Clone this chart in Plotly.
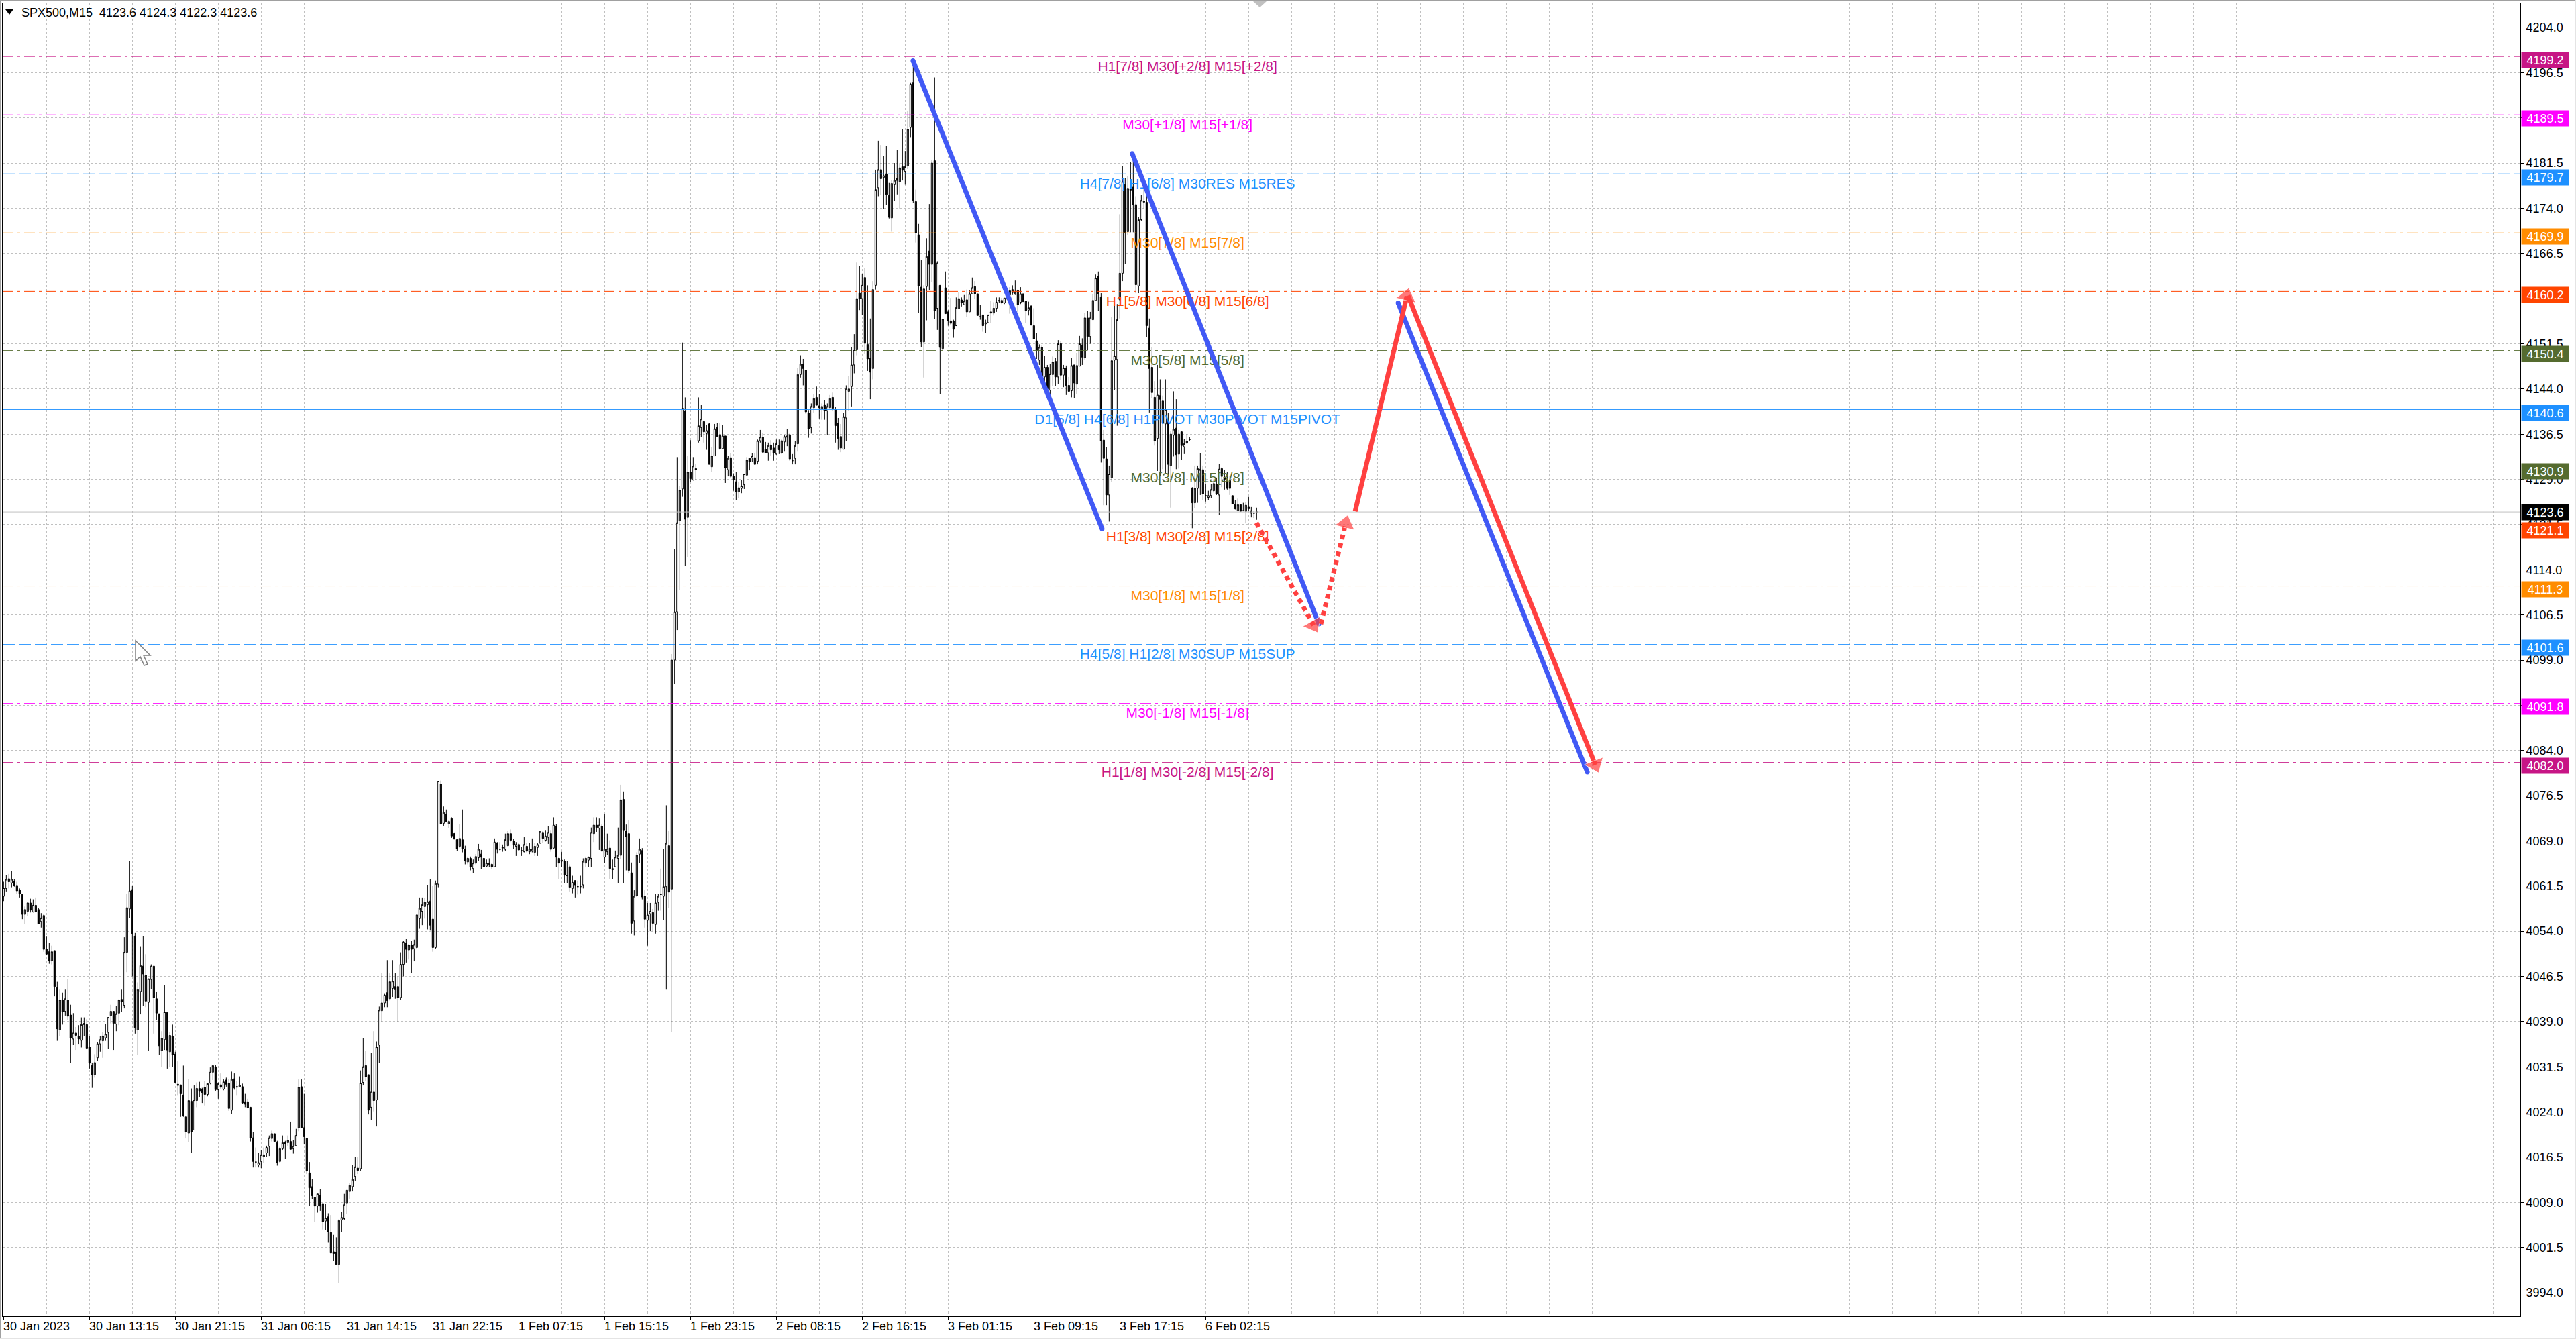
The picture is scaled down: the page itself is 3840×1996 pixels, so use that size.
import plotly.graph_objects as go

OPEN = [
4059.8,4061.1,4062.7,4062.0,4062.3,4061.6,4060.8,4060.1,4056.8,4057.3,
4058.7,4057.2,4058.3,4057.6,4055.6,4056.6,4051,4050.6,4049.1,4050.8,
4044.6,4037.6,4042.6,4040.7,4042.6,4040.1,4036.1,4037.1,4036.6,4035.9,
4038.7,4038.5,4034.8,4031.7,4030.2,4033,4035.3,4035.8,4036.3,4037.2,
4040,4040.7,4038.6,4040.4,4042.7,4041.7,4050.5,4057.7,4060.9,4053.2,
4037.6,4044,4048.2,4046.7,4042.2,4046,4048.2,4042.8,4040.3,4034.2,
4036,4040.5,4034,4036.6,4033.6,4028.6,4028.5,4026.8,4023.2,4020.5,
4025.8,4021,4025.9,4027.9,4027.8,4028.1,4026.9,4028.8,4030.6,4031.5,
4027.7,4028.5,4027.8,4029.3,4028.8,4024.3,4029.5,4028.1,4028.2,4028.2,
4025.7,4025.7,4024.8,4019.7,4015.7,4015.2,4015.8,4016.6,4017.2,4018.3,
4019.6,4020.4,4018.9,4015.8,4017.9,4019,4018.9,4019.1,4017.9,4018.4,
4021.4,4028.2,4021.4,4019.6,4013.9,4011.6,4009.8,4008.4,4010.2,4008.7,
4005.9,4006.6,4004,4000.8,4000.7,3998.7,4006.1,4006.3,4008.8,4010.8,
4011.6,4013.3,4014.7,4014.6,4028.9,4031.7,4030.2,4024.8,4027.3,4026,
4035.1,4040.8,4042.1,4043.8,4042.8,4044.5,4044.8,4044.8,4043,4048.5,
4052,4050.9,4051.7,4051.1,4051.3,4056.1,4057.3,4058.1,4058.4,4059,
4056,4051.3,4061.8,4078.4,4071.9,4073.4,4071.8,4072.7,4070.2,4069.2,
4068.1,4069.2,4067.6,4065.5,4066.1,4064.4,4065.3,4066.2,4066.8,4066.1,
4064.8,4065.1,4065.1,4064.7,4068.6,4067.6,4067.8,4067.6,4068.2,4070.2,
4069,4068.1,4068.4,4067.4,4067.2,4068.1,4067.2,4067.3,4067.1,4067.9,
4068.6,4070.4,4069.1,4069.6,4070.2,4067.8,4071.4,4066.1,4065.6,4065.6,
4063.2,4064.7,4061.1,4062.4,4061.4,4061.4,4061.7,4065.3,4065.8,4066.1,
4070.2,4071.6,4071.1,4071.4,4066.3,4067.2,4067.8,4064.2,4064.7,4066.1,
4066.6,4075.9,4070.6,4070.2,4063.7,4055.7,4059.9,4066.8,4067.4,4059.8,
4055.8,4056.9,4057.1,4055.1,4058.8,4060.1,4059.8,4061.4,4068.2,4061,
4099,4107,4122.1,4127.4,4140.3,4122.7,4130.2,4128.9,4130.8,4135.4,
4137.6,4138.6,4136.6,4138.2,4131.1,4132.9,4137.6,4136.4,4134.1,4136.2,
4130.6,4132.6,4129.5,4128.6,4126.9,4127.5,4128.1,4129.7,4132.5,4132.6,
4132.6,4132,4135.4,4136,4134,4133.4,4134.7,4134.2,4133.2,4134.6,
4133.4,4135.2,4136,4136.4,4132.1,4132.5,4134.9,4146.4,4148.1,4147.1,
4140,4137.6,4140.9,4142.6,4141.2,4140.7,4141.4,4140.4,4140.9,4142.6,
4140.7,4138.3,4136.1,4134,4139.2,4143.6,4144.4,4148,4150.6,4159.9,
4159,4162.5,4151.4,4149.1,4147.4,4161.2,4177.4,4180.4,4179.1,4179.7,
4176.1,4172.4,4177.9,4179,4178.4,4180.9,4180.1,4181,4187.4,4194.9,
4175.1,4169.6,4160.9,4151.8,4161,4166.9,4164.7,4181.9,4157.4,4161.2,
4150.7,4160.8,4156.8,4155.3,4155.3,4154.5,4157.3,4158.8,4158,4158.8,
4156.8,4159.8,4161,4159.8,4156,4156.3,4154.8,4155,4156.6,4156.6,
4157.4,4158.6,4158.7,4158.3,4159.1,4159.6,4160.5,4159.8,4160.4,4158.4,
4159.8,4158.6,4157.1,4157.8,4154.5,4152,4148.8,4150.9,4146,4147.6,
4143.8,4146.4,4148.6,4146,4151.5,4146.3,4147.5,4144.6,4143.7,4148,
4144.8,4147.8,4151.3,4149.2,4155.8,4152.7,4155.5,4158.7,4162.7,4159.3,
4135.5,4132.4,4126.4,4129.3,4148.8,4148.9,4158.8,4163.2,4177.9,4170.1,
4177,4177.5,4174.6,4161.1,4172.1,4175,4175,4154.1,4147.6,4142.6,
4135.8,4142.9,4142,4138.2,4138.8,4131.3,4136.3,4137.5,4133.2,4136.9,
4134.4,4135,4135.6,4127.5,4125.1,4127.5,4130.5,4130.6,4126.3,4126,
4126.3,4127.1,4128.2,4126.4,4130.8,4129.4,4128.6,4128.8,4126.3,4124.8,
4123.8,4124.8,4123.8,4123.7,4124.4,4123.8,4123.4,4123.6,
]
HIGH = [
4062.2,4063.3,4063.5,4064.0,4062.6,4062.2,4061.1,4060.1,4058.1,4058.8,
4059.4,4059.3,4059.6,4057.9,4057.0,4056.9,4053.1,4052.1,4051.6,4050.8,
4045.6,4044.3,4043.8,4044.3,4046.1,4041.8,4040.4,4038.1,4038.4,4039.7,
4039.7,4039.4,4036.6,4032.2,4033.6,4035.6,4036.6,4037.2,4038.6,4039.7,
4041.8,4040.7,4041.6,4042.7,4044.3,4053,4060.2,4065.6,4061.5,4053.7,
4045.5,4051.5,4053.2,4050.2,4046.1,4048.5,4048.2,4044,4040.3,4037.4,
4045,4040.5,4037.3,4038.5,4034,4032.4,4028.5,4031.7,4023.2,4029.5,
4027.9,4028.4,4028.9,4029,4028,4029.1,4028.8,4031.4,4031.7,4031.8,
4028.9,4030.4,4029.4,4029.7,4029.5,4030.7,4030.4,4029.2,4029.9,4028.7,
4027,4026.2,4024.8,4020.7,4018.1,4017.2,4017.7,4018.1,4018.4,4020.1,
4020.9,4020.4,4019.2,4018.2,4020.1,4019.2,4020.1,4022.4,4019.3,4021.2,
4029.4,4029.4,4027,4019.6,4015.7,4012.9,4009.8,4010.4,4011.2,4008.7,
4008.7,4007.2,4006.9,4003.6,4003.2,4006.2,4007.4,4010.4,4011,4012.2,
4015.2,4016.6,4016.5,4030.9,4036.2,4034.2,4030.2,4033.8,4037.4,4035.7,
4041.5,4047,4043.7,4049.2,4047,4049.2,4047,4046.5,4050.5,4052.4,
4052.7,4051.9,4052.4,4052.6,4056.7,4059.6,4059.6,4059.5,4061.7,4062.6,
4061.5,4062.4,4078.9,4079,4074.7,4074.2,4072.4,4072.9,4070.4,4069.2,
4071.8,4074.2,4068.2,4066.4,4066.4,4065.9,4066.8,4068.5,4067.5,4066.1,
4065.9,4066.1,4065.3,4069.4,4068.8,4068.8,4068.4,4070.2,4070.7,4070.9,
4069.3,4068.8,4068.7,4068,4069.6,4068.7,4068.7,4069.4,4068.6,4068.6,
4070.6,4070.7,4070.8,4071.4,4070.8,4072.9,4071.8,4066.4,4067.2,4065.9,
4065.6,4065.1,4063.2,4062.4,4062.4,4063.2,4066.1,4066.4,4066.4,4071.2,
4072.9,4072.9,4072.7,4071.7,4073.4,4070.2,4069.1,4065.9,4067.4,4071.2,
4078.3,4077.2,4071.7,4072.4,4065.4,4060.8,4067.1,4069.4,4067.8,4060.8,
4058.7,4058.7,4057.7,4060.2,4060.2,4064.4,4067.6,4074.9,4070.7,4100,
4117.4,4132.7,4127.9,4151.7,4142.6,4132.9,4135.5,4132.7,4131.6,4142.6,
4141.4,4138.6,4138,4138.4,4134.4,4138.2,4138.4,4138.4,4138,4136.2,
4132.9,4133.4,4130,4130.2,4128.6,4128.9,4129.9,4132.7,4132.5,4133.4,
4133.4,4135.6,4137.2,4136.7,4135.2,4135.1,4135.5,4135.1,4135.6,4135.6,
4135.6,4136.4,4137.4,4136.6,4133.2,4135.4,4147.5,4149.6,4149,4147.1,
4140.5,4141.6,4143.1,4144.4,4143.1,4141.6,4142.1,4141.6,4143,4143.4,
4141,4139.2,4138.2,4140,4144.6,4146.1,4150.9,4153.1,4165,4164.4,
4163.1,4164.1,4161.2,4155.7,4161.9,4180.4,4185.2,4184.5,4182.7,4184.4,
4178.2,4178.7,4181.5,4183.7,4181.5,4187.1,4183.5,4190.2,4194.9,4198,
4177.1,4171.4,4165.4,4161.2,4169,4174.7,4182,4195.7,4165.2,4161.2,
4155.6,4163.5,4157.1,4159.1,4155.5,4159.2,4160,4159.2,4159.6,4160.5,
4160.4,4162.5,4161.9,4159.8,4158,4156.3,4155.5,4156.3,4158.6,4158.4,
4159.2,4159.2,4159.1,4159.1,4160.5,4160.9,4161.2,4162,4160.5,4160.9,
4159.8,4158.6,4158.5,4157.8,4157.4,4153.3,4151.4,4151.2,4149.5,4148,
4148.2,4149.4,4149.2,4152.1,4152,4148,4147.9,4146,4149.2,4148,
4150,4152.8,4152.4,4156.6,4157,4156.8,4159.8,4163,4163.5,4159.9,
4137.2,4134.3,4131.3,4156,4158.2,4158.1,4173,4181,4179,4179.3,
4181.7,4181.9,4176,4172.6,4176.2,4178.8,4177.5,4155.7,4150.9,4145.3,
4148,4145.6,4142.9,4145.6,4140,4137,4143.6,4142.3,4137.2,4136.9,
4135.7,4136.5,4136,4127.7,4131.3,4131.3,4133.3,4131.3,4128.2,4127.1,
4128.2,4129,4129.3,4131.6,4131,4130.6,4130.2,4129.5,4126.3,4125.6,
4125.8,4124.9,4125.1,4125.2,4126.1,4124.4,4123.8,4124.3,
]
LOW = [
4059.0,4060.6,4061.1,4061.3,4061.4,4060.2,4059.6,4056.0,4055.2,4056.5,
4057.1,4057.1,4057.1,4055.2,4054.6,4050.6,4050,4048.6,4048.5,4043.2,
4035.8,4036.6,4038.5,4040.0,4039.3,4032.1,4035.1,4034.3,4035.3,4034.7,
4036.6,4034.4,4031.2,4028,4029.7,4032.5,4034,4033,4035.8,4034.5,
4038.7,4034.3,4037.4,4038.4,4040.6,4041.2,4047.2,4056.2,4046.5,4037,
4033.5,4040.2,4041.6,4041.4,4034.2,4044.4,4037,4039.3,4033.5,4031.5,
4034.3,4031.2,4031.5,4031.5,4028.8,4026.7,4023.2,4023.2,4019.6,4019,
4017.2,4021,4024.8,4026.4,4025.5,4025.1,4026.6,4028.6,4029.3,4027.5,
4026.2,4027.8,4027.6,4028.2,4024.2,4023.7,4027.7,4026.7,4028.1,4025.4,
4024.8,4024.6,4019.1,4014.8,4014.8,4014.8,4014.7,4015.6,4016.5,4016.7,
4019.1,4019.1,4015.1,4015.6,4017.6,4016.2,4018.4,4017.8,4017.1,4018.3,
4020.8,4021.4,4018.6,4013.7,4008.4,4009.5,4005.8,4007.3,4007.6,4004.5,
4004.4,4002.3,4000.6,3999.3,3998.7,3995.6,4004.1,4006.1,4007.1,4009.6,
4010.8,4012.6,4013.7,4014.2,4028.4,4029.1,4023.6,4022.7,4024.1,4021.6,
4032.1,4039,4041.4,4041.4,4042.5,4043.1,4042.8,4039,4042.6,4046.5,
4048.8,4049.3,4047,4049,4051,4054.4,4055,4056.1,4054.3,4054.1,
4050.6,4051.1,4061.3,4071.7,4071.5,4072.1,4071.1,4069.5,4069.3,4067.3,
4067.8,4067.1,4065.1,4065.1,4064.1,4063.6,4065.1,4065.7,4064.3,4064.7,
4064.6,4064.6,4064.3,4064.7,4066.9,4067.3,4067.2,4067.3,4068.1,4068.8,
4067.7,4066.5,4067.3,4066.5,4067.1,4067.1,4066.8,4067.1,4066.5,4066.5,
4068.6,4068.6,4068.9,4068.5,4067.2,4067.7,4064.7,4062.6,4064.7,4062,
4062,4060.6,4060.3,4059.6,4060.1,4060.3,4061.1,4064.6,4064.6,4064.6,
4068.8,4070.5,4067.5,4067.3,4065.3,4066.7,4062.7,4062.6,4064.7,4062,
4066,4062,4064.1,4063.6,4053.6,4053.3,4059.7,4065.3,4059.3,4054.6,
4051.6,4054,4054,4053.6,4057.4,4057.4,4055.9,4044.3,4057.9,4037.2,
4095,4104,4110.6,4126.1,4114.7,4116.1,4128.6,4128.8,4128.9,4135.1,
4136,4135.1,4133.9,4131.5,4130.2,4132.9,4136.1,4133.9,4134.1,4128.4,
4129.5,4129.2,4127.1,4125.6,4125.9,4126.7,4127.4,4129.7,4130.5,4131.9,
4131.4,4131.5,4135.1,4133.3,4133.3,4132.1,4132.9,4132.1,4133.1,4133.2,
4133.2,4133.6,4134.5,4132.1,4131.5,4131.5,4133.6,4145.9,4144.6,4139.9,
4135.9,4136.6,4140.1,4141.3,4139.1,4138.9,4138.9,4136.3,4140.8,4140.3,
4135.1,4133.9,4133.5,4134,4135.4,4140.4,4141.1,4146.6,4149.6,4157.1,
4156.3,4149.9,4147,4142.3,4145.6,4160.5,4176,4176.2,4173.9,4174.5,
4172.3,4170.1,4175.2,4176.3,4173.9,4178.6,4177.9,4180.5,4185.8,4174.9,
4168.3,4156.6,4150.9,4145.9,4155.4,4160.4,4161.8,4155.6,4153.8,4143.1,
4150.6,4156.5,4154.5,4154.6,4152.5,4154.5,4157.3,4157.7,4157.9,4156,
4156.8,4159.8,4159,4156.2,4155.5,4153.5,4153.3,4154.9,4154.9,4156.2,
4156.8,4158.3,4158.1,4158.1,4158.8,4156.5,4159.6,4159.6,4156.8,4158.1,
4158.5,4154.9,4156.2,4154.6,4152.3,4149,4148,4145.6,4143.6,4143,
4142.6,4144.5,4144.5,4144.8,4145.5,4144.3,4143,4143.6,4142.6,4142.5,
4143.2,4147.8,4148,4148.9,4150.4,4151.5,4155.5,4158.7,4157,4131.8,
4124.7,4124.7,4122,4128.6,4143.8,4137.9,4155.7,4161.9,4164.7,4169.6,
4170,4170,4159.9,4159.9,4171.9,4174,4152.6,4140.1,4142.5,4134.6,
4130.4,4129.5,4130.7,4130,4129.9,4124.3,4132.8,4130.7,4130.8,4132.2,
4133.2,4135,4135.3,4120.9,4124.2,4125.1,4126.4,4125.5,4125.3,4125.6,
4125.9,4126.8,4126.4,4123.1,4127.7,4127.3,4127.3,4126.4,4124.9,4124,
4123.7,4123.7,4123.7,4121.7,4123.8,4122.7,4122.6,4122.3,
]
CLOSE = [
4061.2,4062.6,4062.2,4062.6,4061.6,4060.7,4060.2,4056.8,4057.6,4058.7,
4057.5,4058.3,4057.2,4055.2,4056.2,4051.0,4050.2,4049.1,4050.6,4044.8,
4037.8,4042.6,4040.6,4042.8,4039.9,4036.3,4037.1,4036.7,4036.1,4038.5,
4038.5,4034.6,4032.1,4030.2,4032.2,4035.3,4036,4036.6,4036.9,4039.7,
4040.7,4038.7,4040.3,4042.6,4042.3,4050.5,4057.9,4060.7,4053.6,4038,
4044.3,4048.3,4046.9,4042.4,4046.1,4048.2,4043,4040.4,4035,4036.2,
4040.6,4034.3,4036.7,4033.5,4028.9,4028.4,4027,4023.4,4020.7,4025.9,
4020.7,4026,4027.9,4027.4,4027.2,4026.9,4028.7,4030.6,4031.7,4027.7,
4028.7,4028.1,4029,4028.6,4024.6,4029.4,4028,4028.2,4028.4,4025.5,
4025.3,4024.7,4019.7,4015.8,4015.7,4015.6,4016.9,4016.9,4018.1,4019.7,
4020.4,4019.1,4015.6,4017.9,4018.9,4018.7,4019.3,4017.8,4018.3,4020.1,
4028.1,4021.4,4019.9,4014.2,4011.4,4010.1,4008.4,4010.4,4008.4,4005.8,
4006.4,4004.1,4000.6,4000.5,3998.7,4006,4006.5,4008.6,4011,4011.8,
4012.8,4014.9,4014.3,4028.8,4031.5,4029.8,4024.3,4027.3,4025.9,4034.8,
4040.9,4042.1,4043.4,4042.5,4045.6,4045.7,4044.3,4043,4048.5,4052.2,
4051,4051.7,4051,4051.8,4056.7,4057.8,4058.4,4058.8,4058.9,4055,
4051.3,4061.9,4078.9,4071.8,4073.7,4072.2,4072.2,4069.8,4069.3,4067.7,
4069.4,4067.7,4065.7,4066.1,4064.7,4065.3,4066.4,4067.6,4066.3,4064.7,
4065.3,4065.3,4064.7,4068.8,4067.6,4067.6,4067.9,4069.2,4070.2,4069.1,
4068.3,4068.4,4067.5,4067.4,4068.4,4067.3,4067.6,4067.6,4068.1,4068.4,
4070.6,4069.4,4069.8,4070.4,4067.6,4071.6,4066.3,4065.3,4065.8,4063.3,
4063.2,4061.3,4062.1,4061.7,4061.4,4061.4,4065.6,4066.1,4066.3,4070.4,
4071.6,4071.2,4071.6,4067.3,4067.6,4067.6,4064.4,4064.4,4066.3,4066.6,
4075.8,4070.8,4069.7,4064.1,4055.3,4059.8,4066.6,4067.6,4059.7,4056,
4056.7,4057.3,4055.3,4058.7,4059.8,4060.1,4061.4,4068.6,4060.5,4099,
4107,4121.8,4127.2,4140.8,4122.4,4130.2,4129.1,4131.2,4130.6,4137.9,
4139,4136.9,4137.1,4131.5,4132.9,4137.4,4136.1,4134.1,4136.2,4130.9,
4132.5,4129.5,4128.9,4126.9,4127.6,4127.9,4129.9,4132.2,4131.9,4132.9,
4131.5,4135.4,4136,4133.5,4133.4,4134.6,4133.9,4133.4,4134.9,4133.9,
4135.4,4136.1,4136.2,4132.4,4132.1,4134.6,4146.4,4148.1,4147.4,4140.2,
4137.4,4141.1,4142.4,4141.3,4140.9,4141.1,4140.4,4141.1,4142.4,4140.8,
4137.9,4135.8,4134.2,4139.4,4144,4144,4148,4150.5,4159,4159,
4161.2,4151.6,4149,4146.8,4160.5,4177.1,4180.4,4178.9,4179.4,4176.3,
4172.5,4178.1,4178.6,4178.6,4180.7,4180.3,4180.9,4187.1,4194.6,4175.3,
4169.9,4161.1,4151.8,4160.6,4166,4164.7,4181.5,4157,4164.9,4150.9,
4155.6,4156.5,4155.3,4154.9,4153.9,4157.5,4159,4158.3,4158.6,4156.8,
4159.8,4160.8,4159.8,4156.2,4156,4154.5,4155,4156.3,4156.8,4157.4,
4158.4,4158.7,4158.3,4159.1,4160,4160.3,4160,4160,4158,4159.8,
4158.5,4157,4157.5,4154.6,4152.3,4150.4,4150.9,4146.2,4147.6,4144,
4146.5,4148.5,4146,4151.5,4146.3,4147.5,4144.6,4143.6,4147.9,4145,
4147.9,4151.5,4149.3,4155.8,4152.7,4155.8,4158.7,4162.4,4159.8,4135.4,
4132.5,4126.4,4129.9,4148.7,4149.5,4155.5,4163.2,4178.4,4169.9,4177.3,
4177.2,4174.6,4161.3,4172.1,4175.3,4175.2,4154.5,4147.4,4143.4,4135.4,
4143,4142.3,4138.3,4140.6,4131.5,4136.5,4137.3,4133.1,4136.5,4134.6,
4134.9,4135.3,4135.6,4125.1,4127.5,4130.8,4130.7,4126.6,4126.3,4126.3,
4127.3,4128.3,4126.6,4130.7,4129.5,4129,4127.5,4127.5,4124.9,4124.1,
4124.8,4123.7,4123.8,4124.7,4124.1,4123.4,4123.4,4123.6,
]
assert len(OPEN) == len(HIGH) == len(LOW) == len(CLOSE) == 468

LEVELS = [4199.2, 4189.5, 4179.7, 4169.9, 4160.2, 4150.4, 4140.6, 4130.9, 4121.1, 4111.3, 4101.6, 4091.8, 4082.0]
LEVEL_COLORS = ["#C71585", "#FF00FF", "#1E90FF", "#FF8C00", "#FF4500", "#556B2F", "#1E90FF",
                "#556B2F", "#FF4500", "#FF8C00", "#1E90FF", "#FF00FF", "#C71585"]
LEVEL_DASHES = ["16px,6px,4px,6px", "16px,6px,4px,6px", "18px,6px", "16px,6px,4px,6px", "16px,6px,4px,6px",
                "16px,6px,4px,6px", "solid", "16px,6px,4px,6px", "16px,6px,4px,6px", "16px,6px,4px,6px",
                "18px,6px", "16px,6px,4px,6px", "16px,6px,4px,6px"]
LEVEL_TEXT = [
    "H1[7/8] M30[+2/8] M15[+2/8]", "M30[+1/8] M15[+1/8]", "H4[7/8] H1[6/8] M30RES M15RES",
    "M30[7/8] M15[7/8]", "H1[5/8] M30[6/8] M15[6/8]", "M30[5/8] M15[5/8]",
    "D1[5/8] H4[6/8] H1PIVOT M30PIVOT M15PIVOT", "M30[3/8] M15[3/8]", "H1[3/8] M30[2/8] M15[2/8]",
    "M30[1/8] M15[1/8]", "H4[5/8] H1[2/8] M30SUP M15SUP", "M30[-1/8] M15[-1/8]", "H1[1/8] M30[-2/8] M15[-2/8]",
]
LAST_PRICE = 4123.6
HEADER = "SPX500,M15  4123.6 4124.3 4122.3 4123.6"
PRICE_TICKS = [4204.0 - 7.5 * k for k in range(29)]
X_LABELS = ["30 Jan 2023", "30 Jan 13:15", "30 Jan 21:15", "31 Jan 06:15", "31 Jan 14:15", "31 Jan 22:15",
            "1 Feb 07:15", "1 Feb 15:15", "1 Feb 23:15", "2 Feb 08:15", "2 Feb 16:15", "3 Feb 01:15",
            "3 Feb 09:15", "3 Feb 17:15", "6 Feb 02:15"]
# forecast path: (bar index, price) pairs
BLUE_PATHS = [([338.9, 409.4], [4198.5, 4120.8]),
              ([420.6, 490.2], [4183.1, 4105.0]),
              ([519.7, 590.2], [4158.3, 4080.4])]
RED_DOTTED = [([466.9, 488.2], [4121.8, 4104.8]),
              ([490.9, 500.2], [4105.0, 4121.7])]
RED_SOLID = [([503.7, 523.0], [4123.7, 4159.4]),
             ([523.4, 593.2], [4159.5, 4081.6])]

W, H = 3840, 1996
L, R, T, B = 4, 3757, 5, 1962
fx = lambda p: (p - L) / (R - L)
fy = lambda p: (B - p) / (B - T)
bar_to_px = 4.0
x0_px = 5.33
xr = [(L - x0_px) / bar_to_px, (R - x0_px) / bar_to_px]
yr = [4204 - (B - 41) / 8.981, 4204 + (41 - T) / 8.981]
bars = list(range(len(OPEN)))
FONT = "Liberation Sans"
GRID = "#C0C0C0"

fig = go.Figure()
for lvl, col, dash in zip(LEVELS, LEVEL_COLORS, LEVEL_DASHES):
    fig.add_trace(go.Scatter(x=xr, y=[lvl, lvl], mode="lines", hoverinfo="skip",
                             line=dict(color=col, width=1, dash=dash)))
fig.add_trace(go.Scatter(x=xr, y=[LAST_PRICE, LAST_PRICE], mode="lines", hoverinfo="skip",
                         line=dict(color="#C0C0C0", width=1)))
fig.add_trace(go.Candlestick(x=bars, open=OPEN, high=HIGH, low=LOW, close=CLOSE, hoverinfo="skip", whiskerwidth=0,
                             increasing=dict(fillcolor="#FFFFFF", line=dict(color="#000000", width=1)),
                             decreasing=dict(fillcolor="#000000", line=dict(color="#000000", width=1))))
fig.add_trace(go.Scatter(x=[441.2] * len(LEVELS), y=LEVELS, text=LEVEL_TEXT, mode="markers+text", hoverinfo="skip",
                         textposition="bottom center",
                         marker=dict(size=8, opacity=0),
                         textfont=dict(family=FONT, size=21, color=LEVEL_COLORS)))
BLUE = "#4159F5"
RED = "#FF4040"
for xs, ys in BLUE_PATHS:
    fig.add_trace(go.Scatter(x=xs, y=ys, mode="lines+markers", hoverinfo="skip",
                             line=dict(color=BLUE, width=7),
                             marker=dict(symbol="circle", size=7, color=BLUE)))
for xs, ys in RED_DOTTED:
    fig.add_trace(go.Scatter(x=xs, y=ys, mode="lines+markers", hoverinfo="skip",
                             line=dict(color=RED, width=7, dash="7px,6px"),
                             marker=dict(symbol=["circle", "triangle-up"], size=[7, 26], color=RED,
                                         angleref="previous")))
for xs, ys in RED_SOLID:
    fig.add_trace(go.Scatter(x=xs, y=ys, mode="lines+markers", hoverinfo="skip",
                             line=dict(color=RED, width=7),
                             marker=dict(symbol=["circle", "triangle-up"], size=[7, 26], color=RED,
                                         angleref="previous")))

anns = []
for lvl, col in zip(LEVELS, LEVEL_COLORS):
    anns.append(dict(x=1, xref="paper", y=lvl, yref="y", xanchor="left", yanchor="middle", xshift=1, yshift=-5,
                     text=f"{lvl:.1f}", showarrow=False, width=70, height=23, borderpad=0, bgcolor=col,
                     font=dict(family=FONT, size=18, color="#FFFFFF")))
anns.append(dict(x=1, xref="paper", y=LAST_PRICE, yref="y", xanchor="left", yanchor="middle", xshift=1,
                 text=f"{LAST_PRICE:.1f}", showarrow=False, width=70, height=23, borderpad=0, bgcolor="#000000",
                 font=dict(family=FONT, size=18, color="#FFFFFF")))
for k, lab in enumerate(X_LABELS):
    anns.append(dict(x=k * 32, xref="x", y=fy(1977), yref="paper", xanchor="left", yanchor="middle", xshift=-2,
                     text=lab, showarrow=False, font=dict(family=FONT, size=18, color="#000000")))
anns.append(dict(x=fx(30), xref="paper", y=fy(19), yref="paper", xanchor="left", yanchor="middle",
                 text=HEADER.replace("  ", "\u00a0\u00a0"), showarrow=False,
                 font=dict(family=FONT, size=18, color="#000000")))


def path(points):
    return "M " + " L ".join(f"{fx(a)} {fy(b)}" for a, b in points) + " Z"


shapes = [
    dict(type="rect", xref="paper", yref="paper", x0=fx(0), x1=fx(W), y0=fy(0), y1=fy(2),
         fillcolor="#A0A0A0", line_width=0),
    dict(type="rect", xref="paper", yref="paper", x0=fx(0), x1=fx(2), y0=fy(0), y1=fy(H),
         fillcolor="#A0A0A0", line_width=0),
    dict(type="rect", xref="paper", yref="paper", x0=fx(0), x1=fx(W), y0=fy(H - 2), y1=fy(H),
         fillcolor="#E4E4E4", line_width=0),
    dict(type="rect", xref="paper", yref="paper", x0=fx(W - 2), x1=fx(W), y0=fy(0), y1=fy(H),
         fillcolor="#E4E4E4", line_width=0),
    dict(type="path", xref="paper", yref="paper", path=path([(1868, 2), (1888, 2), (1878, 11)]),
         fillcolor="#C0C0C0", line_width=0),
    dict(type="path", xref="paper", yref="paper", path=path([(8, 14), (20, 14), (14, 22)]),
         fillcolor="#000000", line_width=0),
    dict(type="path", xref="paper", yref="paper",
         path=path([(202, 955), (202, 985), (209, 979), (215, 992), (220, 990), (214, 977), (224, 977)]),
         fillcolor="#FFFFFF", line=dict(color="#808080", width=1.5)),
]

fig.update_layout(
    width=W, height=H, autosize=False, showlegend=False,
    margin=dict(l=L, r=W - R, t=T, b=H - B, pad=0),
    paper_bgcolor="#FFFFFF", plot_bgcolor="#FFFFFF", boxgap=0.25,
    font=dict(family=FONT, size=18, color="#000000"),
    annotations=anns, shapes=shapes,
    xaxis=dict(range=xr, rangeslider=dict(visible=False), tickmode="array", tickvals=[k * 32 for k in range(len(X_LABELS))],
               ticktext=X_LABELS, showticklabels=False, showgrid=False, zeroline=False, ticks="outside", ticklen=5,
               tickcolor="#000000", showline=True, linecolor="#000000", linewidth=1, mirror=True,
               minor=dict(tickmode="array", tickvals=[k * 16 for k in range(1, 60)], showgrid=True, gridcolor=GRID,
                          griddash="3px,3px", gridwidth=1, ticks="")),
    yaxis=dict(range=yr, side="right", tickmode="array", tickvals=PRICE_TICKS, ticktext=[f"{v:.1f}" for v in PRICE_TICKS],
               showgrid=True, gridcolor=GRID, griddash="3px,3px", gridwidth=1, zeroline=False, ticks="outside", ticklen=4,
               tickcolor="#000000", showline=True, linecolor="#000000", linewidth=1, mirror=True,
               tickfont=dict(family=FONT, size=18, color="#000000")),
)
fig.write_html("out.html", config=dict(displayModeBar=False, responsive=False),
               post_script="document.body.style.margin='0';document.documentElement.style.overflow='hidden';")
